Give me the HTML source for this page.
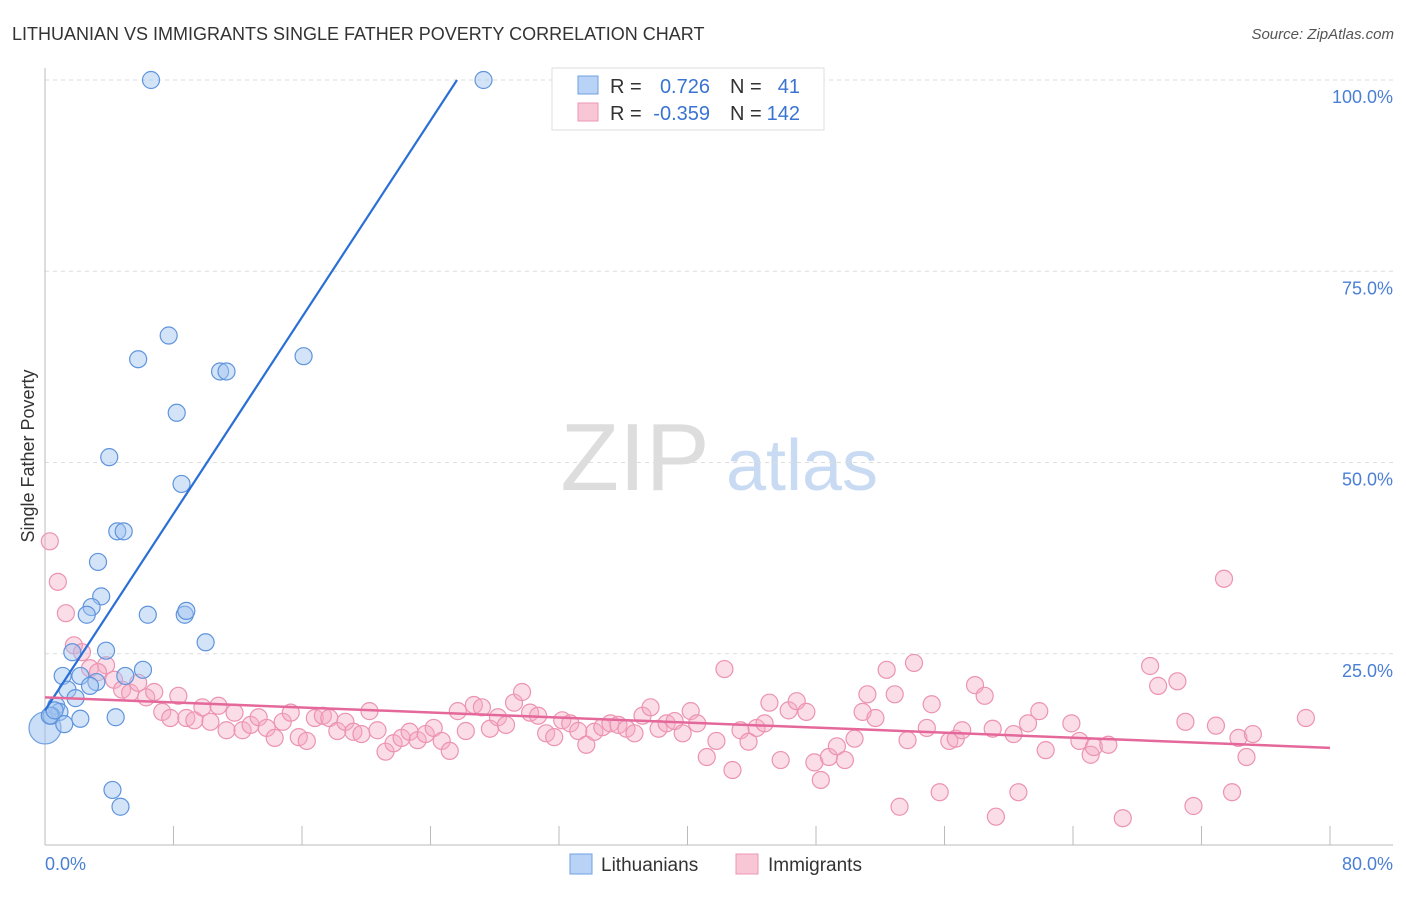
<!DOCTYPE html>
<html><head><meta charset="utf-8">
<style>
body{margin:0;background:#fff;font-family:"Liberation Sans",sans-serif;}
svg text{font-family:"Liberation Sans",sans-serif;}
</style></head>
<body>
<svg id="chart" width="1406" height="892" viewBox="0 0 1406 892" xmlns="http://www.w3.org/2000/svg">
<text x="12" y="40" font-size="18" fill="#333">LITHUANIAN VS IMMIGRANTS SINGLE FATHER POVERTY CORRELATION CHART</text>
<text x="1394" y="39" font-size="15" fill="#555" font-style="italic" text-anchor="end">Source: ZipAtlas.com</text>
<g>
<text x="635" y="490" font-size="96" fill="#ddd" font-family="Liberation Serif,serif" text-anchor="middle">ZIP</text>
<text x="802" y="490" font-size="72" fill="#c9daf3" text-anchor="middle">atlas</text>
</g>
<g id="grid"></g>
<g id="axes"></g>
<g id="pink"></g>
<g id="blue"></g>
<g id="lines"></g>
<text transform="translate(34,456) rotate(-90)" font-size="18" fill="#333" text-anchor="middle">Single Father Poverty</text>
<g>
<rect x="552" y="68" width="272" height="62" fill="#fff" stroke="#ddd"/>
<rect x="578" y="76" width="20" height="18" fill="#b8d3f5" stroke="#6f9fe0"/>
<rect x="578" y="103" width="20" height="18" fill="#f9c6d6" stroke="#ec97b3"/>
<text x="610" y="93" font-size="20" fill="#333">R = </text><text x="710" y="93" font-size="20" fill="#3a74d2" text-anchor="end">0.726</text>
<text x="730" y="93" font-size="20" fill="#333">N = </text><text x="800" y="93" font-size="20" fill="#3a74d2" text-anchor="end">41</text>
<text x="610" y="120" font-size="20" fill="#333">R = </text><text x="710" y="120" font-size="20" fill="#3a74d2" text-anchor="end">-0.359</text>
<text x="730" y="120" font-size="20" fill="#333">N = </text><text x="800" y="120" font-size="20" fill="#3a74d2" text-anchor="end">142</text>
</g>
<g>
<rect x="570" y="854" width="22" height="20" fill="#b8d3f5" stroke="#6f9fe0"/>
<text x="601" y="871" font-size="19" fill="#333">Lithuanians</text>
<rect x="736" y="854" width="22" height="20" fill="#f9c6d6" stroke="#ec97b3"/>
<text x="768" y="871" font-size="19" fill="#333">Immigrants</text>
</g>
</svg>
<script>
const yTicks=[25,50,75,100];
const yTickLabels=["25.0%","50.0%","75.0%","100.0%"];
const xTicks=[0,8,16,24,32,40,48,56,64,72,80];
const xLabelLeft="0.0%", xLabelRight="80.0%";
const blueX=[6.6,27.3,7.7,5.8,16.1,10.9,11.3,8.2,4.0,8.5,4.5,4.9,3.3,3.5,2.9,2.6,6.4,8.7,8.8,10.0,3.8,1.7,6.1,1.1,2.2,3.2,2.8,5.0,1.4,1.9,0.7,0.9,0.4,2.2,1.2,4.4,4.2,4.7,0.3,0.6];
const blueY=[100,100,66.6,63.5,63.9,61.9,61.9,56.5,50.7,47.2,41.0,41.0,37.0,32.5,31.1,30.1,30.1,30.1,30.6,26.5,25.4,25.2,22.9,22.1,22.1,21.3,20.8,22.1,20.3,19.2,18.2,17.4,16.9,16.5,15.8,16.7,7.2,5.0,16.9,17.6];
const bigBlue=[0,15.3];
const pinkX=[0.3,0.8,1.3,1.8,2.3,2.8,3.8,3.3,4.3,4.8,5.3,5.8,6.3,6.8,7.3,7.8,8.3,8.8,9.3,9.8,10.3,10.8,11.3,11.8,12.3,12.8,13.3,13.8,14.3,14.8,15.3,15.8,16.3,16.8,17.3,17.7,18.2,18.7,19.2,19.7,20.2,20.7,21.2,21.7,22.2,22.7,23.2,23.7,24.2,24.7,25.2,25.7,26.2,26.7,27.2,27.7,28.2,28.7,29.2,29.7,30.2,30.7,31.2,31.7,32.2,32.7,33.2,33.7,34.2,34.7,35.2,35.7,36.2,36.7,37.2,37.7,38.2,38.7,39.2,39.7,40.2,40.6,41.2,41.8,42.3,42.8,43.3,43.8,44.3,44.8,45.1,45.8,46.3,46.8,47.4,47.9,48.3,48.8,49.3,49.8,50.4,50.9,51.2,51.7,52.4,52.9,53.2,54.1,53.7,54.9,55.2,55.7,56.3,56.7,57.1,57.9,58.5,59.0,59.2,60.3,60.6,61.2,61.9,62.3,63.9,64.4,65.1,65.3,66.2,67.1,68.8,69.3,70.5,71.0,71.5,72.9,73.4,73.9,74.3,74.8,75.2,78.5];
const pinkY=[39.7,34.4,30.3,26.1,25.2,23.1,23.5,22.6,21.6,20.3,19.9,21.2,19.3,20.0,17.4,16.6,19.5,16.6,16.3,18.0,16.1,18.2,15.0,17.3,15.0,15.7,16.7,15.3,14.0,16.1,17.3,14.1,13.6,16.6,16.9,16.6,14.9,16.1,14.8,14.5,17.5,15.0,12.2,13.3,14.0,14.8,13.7,14.5,15.3,13.6,12.3,17.5,14.9,18.3,18.0,15.2,16.7,15.7,18.6,20.0,17.3,16.9,14.6,14.1,16.3,15.9,14.9,13.1,14.8,15.4,15.9,15.7,15.2,14.6,16.9,18.0,15.2,15.9,16.2,14.6,17.5,15.9,11.5,13.6,23.0,9.8,15.0,13.5,15.3,15.9,18.6,11.1,17.6,18.8,17.4,10.8,8.5,11.5,12.9,11.1,13.9,17.4,19.7,16.6,22.9,19.7,5.0,23.8,13.7,15.3,18.4,6.9,13.6,13.9,15.0,20.9,19.5,15.2,3.7,14.5,6.9,15.9,17.5,12.4,15.9,13.6,11.8,12.8,13.1,3.5,23.4,20.8,21.4,16.1,5.1,15.6,34.8,6.9,14.0,11.5,14.5,16.6];
const blueTrend=[[0,17.6],[25.65,100]];
const pinkTrend=[[0,19.3],[80,12.7]];
const NS="http://www.w3.org/2000/svg";
const sx=v=>45+v*(1330-45)/80;
const sy=v=>845-v*(845-80)/100;
function mk(p,tag,at){const e=document.createElementNS(NS,tag);for(const k in at)e.setAttribute(k,at[k]);p.appendChild(e);return e;}
const grid=document.getElementById('grid'),axes=document.getElementById('axes');
yTicks.forEach((t,i)=>{
 const l=mk(grid,'line',{x1:45,x2:1393,y1:sy(t),y2:sy(t),stroke:'#ddd','stroke-dasharray':'4,4'});
 
 
 const tx=mk(axes,'text',{x:1393,y:sy(t)+23,'font-size':18,fill:'#4a7fd4','text-anchor':'end'});
 tx.textContent=yTickLabels[i];
 
 
});
mk(axes,'line',{x1:45,x2:45,y1:68,y2:845,stroke:'#bbb'});
mk(axes,'line',{x1:45,x2:1393,y1:845,y2:845,stroke:'#bbb'});
xTicks.forEach(t=>{
 const l=mk(axes,'line',{x1:sx(t),x2:sx(t),y1:826,y2:845,stroke:'#bbb'});
 
 
});
let a=mk(axes,'text',{x:45,y:870,'font-size':18,fill:'#4a7fd4'});a.textContent=xLabelLeft;

a=mk(axes,'text',{x:1393,y:870,'font-size':18,fill:'#4a7fd4','text-anchor':'end'});a.textContent=xLabelRight;

const pg=document.getElementById('pink');
pinkX.forEach((x,i)=>{
 const c=mk(pg,'circle',{cx:sx(x),cy:sy(pinkY[i]),r:8.5,fill:'rgba(246,170,196,0.4)',stroke:'#ec93b1','stroke-width':1.2});
 
 
});
const bg=document.getElementById('blue');
const bc=mk(bg,'circle',{cx:sx(bigBlue[0]),cy:sy(bigBlue[1]),r:16,fill:'rgba(150,190,240,0.5)',stroke:'#6f9fe0','stroke-width':1.2});


blueX.forEach((x,i)=>{
 const c=mk(bg,'circle',{cx:sx(x),cy:sy(blueY[i]),r:8.5,fill:'rgba(160,196,240,0.45)',stroke:'#5f94dd','stroke-width':1.2});
 
 
});
const lg=document.getElementById('lines');
let t1=mk(lg,'line',{x1:sx(blueTrend[0][0]),y1:sy(blueTrend[0][1]),x2:sx(blueTrend[1][0]),y2:sy(blueTrend[1][1]),stroke:'#2a6fd6','stroke-width':2.2});


let t2=mk(lg,'line',{x1:sx(pinkTrend[0][0]),y1:sy(pinkTrend[0][1]),x2:sx(pinkTrend[1][0]),y2:sy(pinkTrend[1][1]),stroke:'#e4689a','stroke-width':2.5});


</script>
</body></html>
